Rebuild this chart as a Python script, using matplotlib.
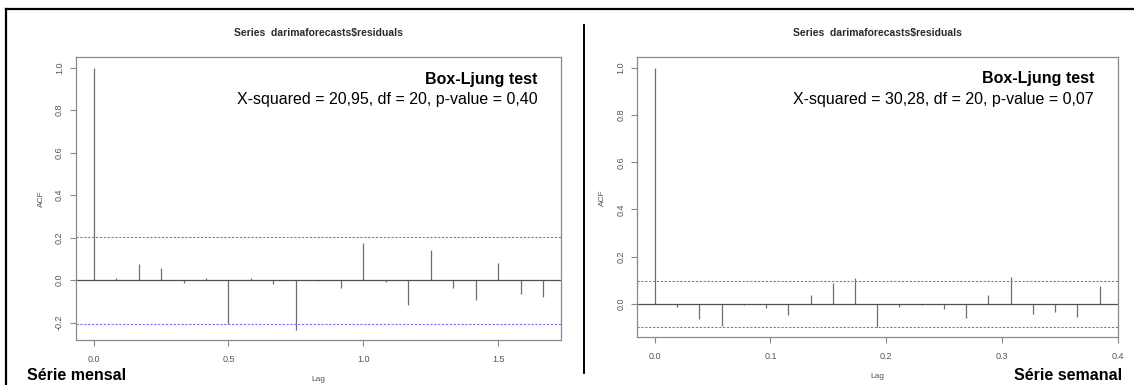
import matplotlib as mpl
mpl.use('Agg')
import matplotlib.pyplot as plt
from matplotlib.lines import Line2D
import numpy as np

plt.rcParams['font.family'] = ['Liberation Sans', 'DejaVu Sans']

# ACF dos residuos - serie mensal (frequencia 12) e semanal (frequencia 52)
lag_index = list(range(21))
acf_mensal = [1.0, 0.010, 0.074, 0.055, -0.016, 0.008, -0.208, 0.010, -0.019, -0.233,
              -0.005, -0.039, 0.173, -0.010, -0.118, 0.142, -0.039, -0.094, 0.079, -0.066, -0.079]
acf_semanal = [1.0, -0.011, -0.064, -0.092, -0.005, -0.019, -0.047, 0.038, 0.088, 0.110,
               -0.096, -0.014, -0.005, -0.021, -0.061, 0.038, 0.113, -0.042, -0.035, -0.057, 0.078]
freq_mensal = 12
freq_semanal = 52
ci_mensal = 0.205
ci_semanal = 0.097

yticks_mensal = [-0.2, 0.0, 0.2, 0.4, 0.6, 0.8, 1.0]
yticks_semanal = [0.0, 0.2, 0.4, 0.6, 0.8, 1.0]
xticks_mensal = [0.0, 0.5, 1.0, 1.5]
xticks_semanal = [0.0, 0.1, 0.2, 0.3, 0.4]

titulo = 'Series  darimaforecasts$residuals'
teste_mensal = 'X-squared = 20,95, df = 20, p-value = 0,40'
teste_semanal = 'X-squared = 30,28, df = 20, p-value = 0,07'

W, H = 1134, 385
fig = plt.figure(figsize=(W / 100, H / 100), dpi=100)


def px(x0, y0, x1, y1):
    # pixel box -> fig fraction [left, bottom, width, height]
    return [x0 / W, 1 - y1 / H, (x1 - x0) / W, (y1 - y0) / H]


def acf_plot(rect, acf, freq, ci, yticks, xticks, teste):
    ax = fig.add_axes(rect)
    lags = np.array(lag_index) / freq
    ax.vlines(lags, 0, acf, color='#6e6e6e', linewidth=0.9)
    ax.axhline(0, color='#505050', linewidth=0.9)
    ax.axhline(ci, color='#6f6fff', linewidth=0.8, linestyle=(0, (2, 1.5)))
    ax.axhline(-ci, color='#6f6fff', linewidth=0.8, linestyle=(0, (2, 1.5)))
    # limites como no R (4% de folga)
    xr = lags.max() - lags.min()
    ax.set_xlim(lags.min() - 0.04 * xr, lags.max() + 0.04 * xr)
    ymin = min(min(acf), -ci)
    ymax = max(max(acf), ci)
    yr = ymax - ymin
    ax.set_ylim(ymin - 0.04 * yr, ymax + 0.04 * yr)
    ax.set_xticks(xticks)
    ax.set_xticklabels(['%.1f' % v for v in xticks])
    ax.set_yticks(yticks)
    ax.set_yticklabels(['%.1f' % v for v in yticks], rotation=90, va='center')
    ax.tick_params(length=4.5, width=0.8, color='#8a8a8a', labelsize=6.5,
                   labelcolor='#555555', pad=4)
    ax.tick_params(axis='x', pad=6)
    for s in ax.spines.values():
        s.set_color('#8a8a8a')
        s.set_linewidth(0.9)
    ax.set_title(titulo, fontsize=7.5, fontweight='bold', color='#2a2a2a', pad=15)
    ax.set_xlabel('Lag', fontsize=6, color='#555555', labelpad=9)
    ax.set_ylabel('ACF', fontsize=6, color='#555555', labelpad=7)
    ax.text(0.951, 0.923, 'Box-Ljung test', transform=ax.transAxes, ha='right',
            va='center', fontsize=11.5, fontweight='bold')
    ax.text(0.951, 0.849, teste, transform=ax.transAxes, ha='right',
            va='center', fontsize=11.5)
    return ax


acf_plot(px(75.7, 57.3, 561, 340), acf_mensal, freq_mensal, ci_mensal,
         yticks_mensal, xticks_mensal, teste_mensal)
acf_plot(px(637, 57.3, 1117.5, 337.3), acf_semanal, freq_semanal, ci_semanal,
         yticks_semanal, xticks_semanal, teste_semanal)

fig.text(27 / W, 1 - 376 / H, 'Série mensal', ha='left', va='center',
         fontsize=11.5, fontweight='bold')
fig.text(1122 / W, 1 - 376 / H, 'Série semanal', ha='right', va='center',
         fontsize=11.5, fontweight='bold')

# moldura e divisoria
fig.add_artist(Line2D([6 / W, 1], [1 - 9.3 / H, 1 - 9.3 / H], color='black', linewidth=1.6))
fig.add_artist(Line2D([6 / W, 6 / W], [0, 1 - 9.3 / H], color='black', linewidth=1.6))
fig.add_artist(Line2D([584 / W, 584 / W], [1 - 373 / H, 1 - 25 / H], color='black', linewidth=1.4))

plt.savefig('out.png', dpi=100)
